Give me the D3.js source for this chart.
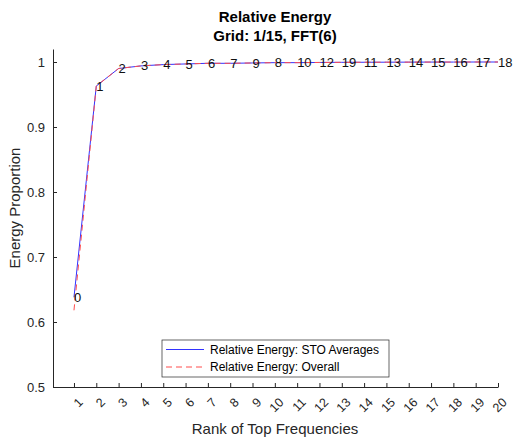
<!DOCTYPE html>
<html>
<head>
<meta charset="utf-8">
<script src="https://cdn.jsdelivr.net/npm/d3@7"></script>
<style>
  body { margin: 0; background: #fff; }
  text { font-family: "Liberation Sans", Arial, sans-serif; }
</style>
</head>
<body>
<div id="chart"></div>
<script>
// rank of top frequencies
var ranks = d3.range(1, 21);
// cumulative energy proportion
var stoAverages = [0.638, 0.963, 0.990, 0.994, 0.996, 0.997, 0.998, 0.998, 0.9985, 0.999,
                   0.999, 0.9993, 0.9995, 0.9996, 0.9997, 0.9998, 0.9999, 0.9999, 1.0, 1.0];
var overall = [0.618, 0.963, 0.990, 0.994, 0.996, 0.997, 0.998, 0.998, 0.9985, 0.999,
               0.999, 0.9993, 0.9995, 0.9996, 0.9997, 0.9998, 0.9999, 0.9999, 1.0, 1.0];
// frequency index shown next to each point
var pointLabels = ["0", "1", "2", "3", "4", "5", "6", "7", "9", "8",
                   "10", "12", "19", "11", "13", "14", "15", "16", "17", "18"];
var yTicks = [0.5, 0.6, 0.7, 0.8, 0.9, 1];
var legendLabels = ["Relative Energy: STO Averages", "Relative Energy: Overall"];

var width = 516, height = 437;
var plotLeft = 53, plotRight = 498, plotTop = 49, plotBottom = 387;

var svg = d3.select("#chart").append("svg")
    .attr("width", width)
    .attr("height", height);

var x = d3.scaleLinear().domain([0.06, 20]).range([plotLeft, plotRight]);
var y = d3.scaleLinear().domain([0.5, 1.02]).range([plotBottom, plotTop]);

// axes (ticks pointing inward like matlab)
var xAxis = svg.append("g")
    .attr("transform", "translate(0," + plotBottom + ")")
    .call(d3.axisBottom(x).tickValues(ranks).tickSizeInner(-4).tickSizeOuter(0).tickPadding(10));
xAxis.select(".domain").attr("stroke", "#262626");
xAxis.selectAll(".tick line").attr("stroke", "#262626");
xAxis.selectAll(".tick text")
    .attr("font-size", 12.5)
    .attr("fill", "#262626")
    .attr("text-anchor", "end")
    .attr("dy", "0.35em")
    .attr("transform", "translate(6,13) rotate(-45)")
    .attr("y", 0);

var yAxis = svg.append("g")
    .attr("transform", "translate(" + plotLeft + ",0)")
    .call(d3.axisLeft(y).tickValues(yTicks).tickFormat(d3.format("")).tickSizeInner(-4).tickSizeOuter(0).tickPadding(8));
yAxis.select(".domain").attr("stroke", "#262626");
yAxis.selectAll(".tick line").attr("stroke", "#262626");
yAxis.selectAll(".tick text").attr("font-size", 13).attr("fill", "#262626");

// lines
var line = d3.line()
    .x(function(d, i) { return x(ranks[i]); })
    .y(function(d) { return y(d); });

svg.append("path")
    .datum(stoAverages)
    .attr("fill", "none")
    .attr("stroke", "#3333ff")
    .attr("stroke-width", 1)
    .attr("d", line);

svg.append("path")
    .datum(overall)
    .attr("fill", "none")
    .attr("stroke", "#ff4d4d")
    .attr("stroke-width", 1)
    .attr("stroke-dasharray", "6,4")
    .attr("d", line);

// point labels
svg.selectAll(".plabel")
    .data(pointLabels)
    .enter().append("text")
    .attr("class", "plabel")
    .attr("x", function(d, i) { return x(ranks[i]); })
    .attr("y", function(d, i) { return y(stoAverages[i]); })
    .attr("dy", "0.35em")
    .attr("font-size", 13)
    .attr("fill", "#111")
    .text(function(d) { return d; });

// title
svg.append("text")
    .attr("x", 275).attr("y", 22)
    .attr("text-anchor", "middle")
    .attr("font-size", 15).attr("font-weight", "bold")
    .attr("fill", "#000")
    .text("Relative Energy");
svg.append("text")
    .attr("x", 275).attr("y", 41)
    .attr("text-anchor", "middle")
    .attr("font-size", 15).attr("font-weight", "bold")
    .attr("fill", "#000")
    .text("Grid: 1/15, FFT(6)");

// axis labels
svg.append("text")
    .attr("x", 275).attr("y", 434)
    .attr("text-anchor", "middle")
    .attr("font-size", 15)
    .attr("fill", "#262626")
    .text("Rank of Top Frequencies");
svg.append("text")
    .attr("transform", "translate(20,208) rotate(-90)")
    .attr("text-anchor", "middle")
    .attr("font-size", 15)
    .attr("fill", "#262626")
    .text("Energy Proportion");

// legend
var legend = svg.append("g").attr("transform", "translate(162,340)");
legend.append("rect")
    .attr("width", 227).attr("height", 37)
    .attr("fill", "#fff")
    .attr("stroke", "#262626").attr("stroke-width", 0.7);
var legendStyles = [{ color: "#3333ff", dash: "none" }, { color: "#ff4d4d", dash: "6,4" }];
legendLabels.forEach(function(lbl, i) {
    var ly = 9.5 + i * 17.5;
    legend.append("line")
        .attr("x1", 4).attr("x2", 42)
        .attr("y1", ly).attr("y2", ly)
        .attr("stroke", legendStyles[i].color)
        .attr("stroke-width", 1)
        .attr("stroke-dasharray", legendStyles[i].dash);
    legend.append("text")
        .attr("x", 48).attr("y", ly)
        .attr("dy", "0.35em")
        .attr("font-size", 12)
        .attr("fill", "#000")
        .text(lbl);
});
</script>
</body>
</html>
